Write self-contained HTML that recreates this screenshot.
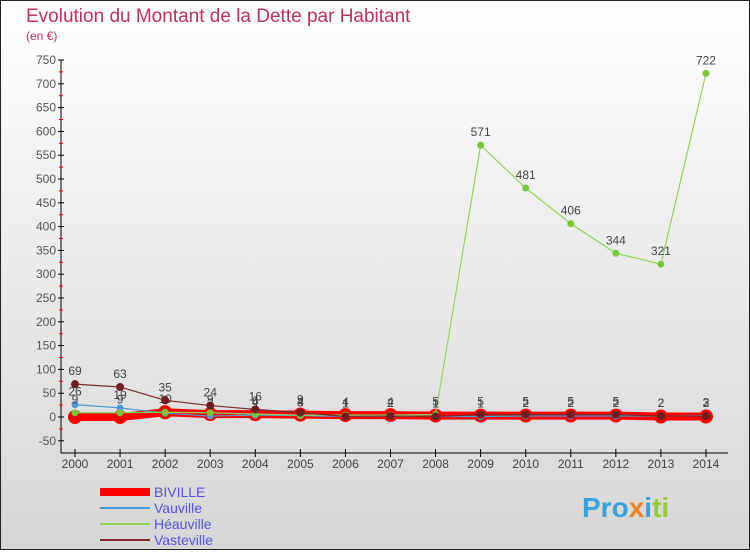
<!DOCTYPE html>
<html><head><meta charset="utf-8"><style>
body{margin:0;width:750px;height:550px;overflow:hidden;font-family:"Liberation Sans",sans-serif}
</style></head><body>
<svg width="750" height="550" xmlns="http://www.w3.org/2000/svg">
<defs><linearGradient id="bg" x1="0" y1="0" x2="0" y2="1"><stop offset="0" stop-color="#ffffff"/><stop offset="1" stop-color="#d6d6d6"/></linearGradient></defs>
<rect x="0.5" y="0.5" width="749" height="549" fill="url(#bg)" stroke="#222"/>
<text x="26" y="22" font-size="19" fill="#c0305f">Evolution du Montant de la Dette par Habitant</text>
<text x="26" y="40" font-size="12" fill="#c0305f">(en €)</text>
<g id="axes"></g>
<g id="series"></g>
<g id="legend" font-size="14"></g>
<text x="582" y="517" font-size="28" font-weight="bold" fill="#3aa0d8">Pro<tspan fill="#f08020">x</tspan><tspan fill="#3aa0d8">i</tspan><tspan fill="#9c3">ti</tspan></text>
</svg>
<script>
const years=[2000,2001,2002,2003,2004,2005,2006,2007,2008,2009,2010,2011,2012,2013,2014];
const yTicks=[-50,0,50,100,150,200,250,300,350,400,450,500,550,600,650,700,750];
const biville=[0,0,10,6,6,5,4,4,3,3,3,3,3,1,1];
const vauville=[26,19,8,2,4,3,1,2,1,1,2,2,2,2,3];
const heauville=[9,9,10,9,6,4,4,4,5,571,481,406,344,321,722];
const vasteville=[69,63,35,24,16,9,1,2,1,5,5,5,5,2,2];
const NS="http://www.w3.org/2000/svg";
function x(i){return 75+i*45.07;}
function y(v){return 417-v*(23.8/50);}
function el(t,a,p){const e=document.createElementNS(NS,t);for(const k in a)e.setAttribute(k,a[k]);p.appendChild(e);return e;}
const ax=document.getElementById('axes');
let l=el('line',{x1:61,y1:60,x2:61,y2:453,stroke:'#000'},ax);


l=el('line',{x1:61,y1:453,x2:728,y2:453,stroke:'#000'},ax);


yTicks.forEach(v=>{
 el('line',{x1:58,x2:64,y1:y(v),y2:y(v),stroke:'#000'},ax);
 if(v<750) el('line',{x1:59,x2:63,y1:y(v+25),y2:y(v+25),stroke:'#e00'},ax);
 const t=el('text',{x:56,y:y(v)+4,'text-anchor':'end','font-size':12,fill:'#555'},ax);
 t.textContent=v;
 
 
});
years.forEach((yr,i)=>{
 el('line',{x1:x(i),x2:x(i),y1:449,y2:457,stroke:'#000'},ax);
 const t=el('text',{x:x(i),y:468,'text-anchor':'middle','font-size':12,fill:'#444'},ax);
 t.textContent=yr;
 
 
});
const sg=document.getElementById('series');
function draw(data,name,color,w,r,dot,labels){
 const g=el('g',{},sg);
 
 
 el('polyline',{points:data.map((v,i)=>x(i)+','+y(v)).join(' '),fill:'none',stroke:color,'stroke-width':w},g);
 data.forEach((v,i)=>{
  const c=el('circle',{cx:x(i),cy:y(v),r:r,fill:dot,stroke:color==='#f00'?'#f00':'none','stroke-width':2},g);
  
  
  if(labels){const t=el('text',{x:x(i),y:y(v)-9,'text-anchor':'middle','font-size':12,fill:'#444'},g);t.textContent=v;
   
   }
 });
}
draw(biville,'biville','#f00',8,6,'#e00',false);
draw(vauville,'vauville','#4a9ad4',1.2,3.5,'#4a9ad4',true);
draw(heauville,'heauville','#8fd45a',1.2,3.5,'#7cc63c',true);
draw(vasteville,'vasteville','#7a2a2a',1.2,4,'#6b1f1f',true);
const lg=document.getElementById('legend');
[['BIVILLE','#f00',8],['Vauville','#4a9ad4',2],['Héauville','#8fd45a',2],['Vasteville','#7a2a2a',2]].forEach((s,i)=>{
 const yy=492+i*16;
 el('line',{x1:100,x2:150,y1:yy,y2:yy,stroke:s[1],'stroke-width':s[2]},lg);
 const t=el('text',{x:154,y:yy+5,fill:'#5555dd'},lg);
 t.textContent=s[0];
 
 
});
</script>
</body></html>
